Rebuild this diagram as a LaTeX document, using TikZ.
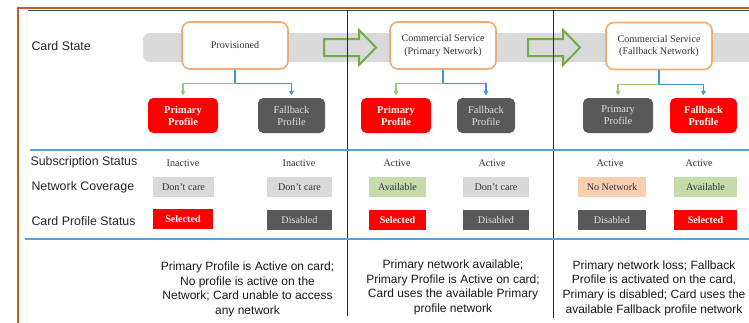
\documentclass[tikz,border=0pt]{standalone}
\usepackage{fontspec}
\setmainfont{Liberation Serif}
\setsansfont{Liberation Sans}
\usetikzlibrary{arrows.meta}

\definecolor{framebrown}{RGB}{190,95,30}
\definecolor{frameteal}{RGB}{45,75,95}
\definecolor{bandgray}{RGB}{218,218,218}
\definecolor{stateorange}{RGB}{244,170,110}
\definecolor{arrowgreen}{RGB}{112,173,71}
\definecolor{leggreen}{RGB}{150,200,120}
\definecolor{legblue}{RGB}{60,155,210}
\definecolor{rowblue}{RGB}{91,160,215}
\definecolor{profred}{RGB}{255,0,0}
\definecolor{profgray}{RGB}{89,89,89}
\definecolor{valgray}{RGB}{217,217,217}
\definecolor{valgreen}{RGB}{197,220,170}
\definecolor{valpeach}{RGB}{249,206,176}

\tikzset{every picture/.style={line width=0.75pt},
  statebox/.style={draw=stateorange, line width=1.2pt, fill=white, rounded corners=6pt,
    minimum width=79.5pt, minimum height=35.25pt, inner sep=1pt, align=center,
    font=\fontsize{7.6}{9.2}\selectfont, text=black!80},
  profon/.style={fill=profred, rounded corners=4pt, minimum height=26.25pt, inner sep=1pt,
    align=center, text=white, font=\bfseries\fontsize{7.8}{9}\selectfont},
  profoff/.style={fill=profgray, rounded corners=4pt, minimum height=26.25pt, inner sep=1pt,
    align=center, text=black!12, font=\fontsize{7.8}{9}\selectfont},
  valbox/.style={minimum height=15pt, inner sep=1pt, font=\fontsize{7.6}{9}\selectfont, text=black!80},
  selbox/.style={fill=profred, minimum height=15pt, inner sep=1pt, text=white,
    font=\bfseries\fontsize{7.6}{9}\selectfont},
  disbox/.style={fill=profgray, minimum height=15pt, inner sep=1pt, text=black!12,
    font=\fontsize{7.6}{9}\selectfont},
  subtext/.style={inner sep=1pt, font=\fontsize{7.6}{9}\selectfont, text=black!80},
  rowlabel/.style={anchor=west, inner sep=0pt, font=\sffamily\fontsize{9.3}{11}\selectfont, text=black!85},
  notetext/.style={inner sep=0pt, align=center, font=\sffamily\fontsize{9}{11}\selectfont, text=black!90},
  blockarrow/.style={draw=arrowgreen, line width=1.5pt, line join=miter},
  legline/.style={line width=0.9pt, -{Triangle[length=3.5pt,width=3.5pt]}, shorten >=1.5pt}
}

\begin{document}
\begin{tikzpicture}[x=0.75pt,y=0.75pt,yscale=-1,xscale=1]
	\useasboundingbox (0,0) rectangle (749,322);
	\clip (0,0) rectangle (749,322);
	
	%Frame lines
	\draw [framebrown, line width=1.5pt] (17.5,330) -- (17.5,8) -- (760,8) ;
	\draw [frameteal, line width=0.6pt] (28,10) -- (760,10) ;
	
	%Shape: Card state band
	\fill [bandgray, rounded corners=5pt] (143,33) rectangle (780,62) ;
	
	%Shape: Block arrows
	\draw [blockarrow] (324,39) -- (359,39) -- (359,30) -- (376,47.5) -- (359,65) -- (359,56) -- (324,56) -- cycle ;
	\draw [blockarrow] (528,39) -- (563,39) -- (563,30) -- (580,47.5) -- (563,65) -- (563,56) -- (528,56) -- cycle ;
	
	%Straight Lines: column separators
	\draw [black!85] (347,10) -- (347,316) ;
	\draw [black!85] (553,10) -- (553,318) ;
	
	%Straight Lines: row separators
	\draw [rowblue, line width=1pt] (30,150) -- (760,150) ;
	\draw [rowblue, line width=1pt] (25,239) -- (760,239) ;
	
	% Row labels
	\node [rowlabel] (lblstate) at (31,46) {Card State};
	\node [rowlabel] (lblsub) at (30,162) {Subscription Status};
	\node [rowlabel] (lblnet) at (31,187) {Network Coverage};
	\node [rowlabel] (lblcard) at (31,221) {Card Profile Status};
	
	% Card state boxes
	\node [statebox] (prov) at (235,45.5) {Provisioned};
	\node [statebox] (csprim) at (443,45.5) {Commercial Service\\(Primary Network)};
	\node [statebox] (csfall) at (659,46) {Commercial Service\\(Fallback Network)};
	
	% Profile boxes
	\node [profon, minimum width=52.5pt] (prim1) at (183,115.5) {Primary\\Profile};
	\node [profoff, minimum width=50.25pt] (fall1) at (291.5,115.5) {Fallback\\Profile};
	\node [profon, minimum width=52.5pt] (prim2) at (396,115.5) {Primary\\Profile};
	\node [profoff, minimum width=43.5pt] (fall2) at (486,115.5) {Fallback\\Profile};
	\node [profoff, minimum width=52.5pt] (prim3) at (618,115.5) {Primary\\Profile};
	\node [profon, minimum width=50.25pt] (fall3) at (703.5,115.5) {Fallback\\Profile};
	
	%Connectors
	\coordinate (j1) at ([yshift=10.5pt]prov.south);
	\coordinate (j2) at ([yshift=10.5pt]csprim.south);
	\coordinate (j3) at ([yshift=10.5pt]csfall.south);
	\draw [legblue, line width=0.9pt] (prov.south) -- (j1) ;
	\draw [legblue, line width=0.9pt] (csprim.south) -- (j2) ;
	\draw [legblue, line width=0.9pt] (csfall.south) -- (j3) ;
	\draw [legline, leggreen] (j1) -| (prim1.north) ;
	\draw [legline, legblue] (j1) -| (fall1.north) ;
	\draw [legline, leggreen] (j2) -| (prim2.north) ;
	\draw [legline, legblue] (j2) -| (fall2.north) ;
	\draw [legline, leggreen] (j3) -| (prim3.north) ;
	\draw [legline, legblue] (j3) -| (fall3.north) ;
	
	% Subscription status
	\node [subtext] (sub1) at (183,163) {Inactive};
	\node [subtext] (sub2) at (299,163) {Inactive};
	\node [subtext] (sub3) at (397,163) {Active};
	\node [subtext] (sub4) at (492,163) {Active};
	\node [subtext] (sub5) at (610,163) {Active};
	\node [subtext] (sub6) at (699,163) {Active};
	
	% Network coverage
	\node [valbox, fill=valgray, minimum width=45.75pt] (net1) at (183.5,187) {Don’t care};
	\node [valbox, fill=valgray, minimum width=48.75pt] (net2) at (299.5,187) {Don’t care};
	\node [valbox, fill=valgreen, minimum width=42.75pt] (net3) at (397.5,187) {Available};
	\node [valbox, fill=valgray, minimum width=49.5pt] (net4) at (496,187) {Don’t care};
	\node [valbox, fill=valpeach, minimum width=51pt] (net5) at (612,187) {No Network};
	\node [valbox, fill=valgreen, minimum width=47.25pt] (net6) at (705.5,187) {Available};
	
	% Card profile status
	\node [selbox, minimum width=45pt] (card1) at (183,219) {Selected};
	\node [disbox, minimum width=48.75pt] (card2) at (299.5,220) {Disabled};
	\node [selbox, minimum width=42.75pt] (card3) at (397.5,220) {Selected};
	\node [disbox, minimum width=49.5pt] (card4) at (496,220) {Disabled};
	\node [disbox, minimum width=51pt] (card5) at (612,220) {Disabled};
	\node [selbox, minimum width=47.25pt] (card6) at (705.5,220) {Selected};
	
	% Notes
	\node [notetext] (note1) at (247.5,289.5) {Primary Profile is Active on card;\\No profile is active on the\\Network; Card unable to access\\any network};
	\node [notetext] (note2) at (453,287.5) {Primary network available;\\Primary Profile is Active on card;\\Card uses the available Primary\\profile network};
	\node [notetext] (note3) at (654,288) {Primary network loss; Fallback\\Profile is activated on the card,\\Primary is disabled; Card uses the\\available Fallback profile network};
	
\end{tikzpicture}
\end{document}
